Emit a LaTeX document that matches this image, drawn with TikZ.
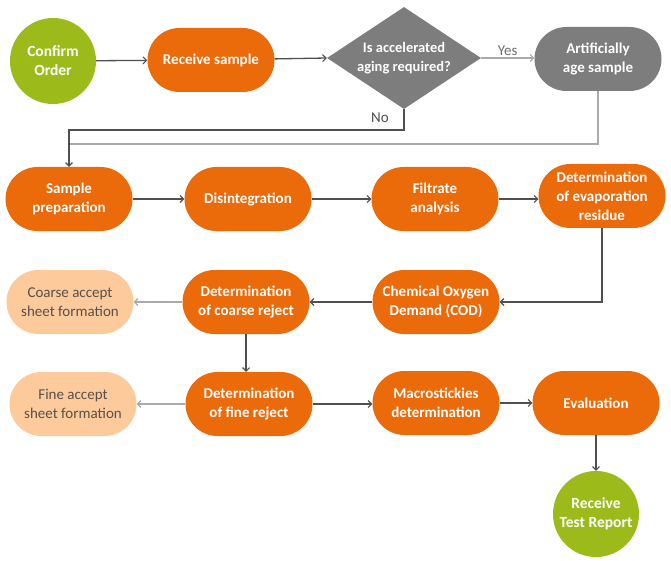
\documentclass[tikz,border=0pt]{standalone}
\usepackage{fontspec}
\setmainfont{Carlito}
\usetikzlibrary{shapes.geometric,arrows.meta}
\definecolor{orng}{RGB}{235,106,10}
\definecolor{grn}{RGB}{156,187,26}
\definecolor{gry}{RGB}{125,125,125}
\definecolor{peach}{RGB}{252,202,155}
\definecolor{peachtext}{RGB}{88,80,74}
\definecolor{darkline}{RGB}{80,80,80}
\definecolor{lightline}{RGB}{170,170,170}
\definecolor{yestext}{RGB}{110,110,110}
\begin{document}
\begin{tikzpicture}[x=1pt,y=-1pt,
  every node/.style={font=\fontsize{15}{19}\selectfont, align=center, inner sep=0pt},
  pill/.style={rectangle, rounded corners=32pt, minimum width=127pt, minimum height=64pt, fill=orng, text=white, font=\fontsize{15}{19}\selectfont\bfseries},
  graypill/.style={pill, fill=gry},
  peachpill/.style={pill, fill=peach, text=peachtext, font=\fontsize{15}{19}\selectfont},
  endcirc/.style={circle, minimum size=86pt, fill=grn, text=white, font=\fontsize{15.5}{19}\selectfont\bfseries},
  decision/.style={diamond, aspect=1.5, minimum width=154pt, minimum height=102pt, fill=gry, text=white, font=\fontsize{14.5}{18.5}\selectfont\bfseries},
  darrow/.style={draw=darkline, line width=1.3pt, -{Straight Barb[length=3.5pt,width=7pt,line width=1.1pt]}},
  larrow/.style={draw=lightline, line width=1.3pt, -{Straight Barb[length=3.5pt,width=7pt,line width=1.1pt]}},
  lline/.style={draw=lightline, line width=1.3pt},
  lbl/.style={font=\fontsize{15}{19}\selectfont}
]
\useasboundingbox (0,0) rectangle (671,561);
\fill[white] (0,0) rectangle (671,561);

\node[endcirc] (CO) at (53,61) {Confirm\\Order};
\node[pill] (RS) at (211,60) {Receive sample};
\node[decision] (DI) at (404,58) {Is accelerated\\aging required?};
\node[graypill] (AA) at (598,59) {Artificially\\age sample};

\node[pill] (SP) at (69,199) {Sample\\preparation};
\node[pill] (DS) at (248,199) {Disintegration};
\node[pill] (FA) at (435,199) {Filtrate\\analysis};
\node[pill] (ER) at (602,196) {Determination\\of evaporation\\residue};

\node[peachpill] (CA) at (70,302) {Coarse accept\\sheet formation};
\node[pill] (CR) at (246,302) {Determination\\of coarse reject};
\node[pill] (COD) at (436,302) {Chemical Oxygen\\Demand (COD)};

\node[peachpill] (FN) at (73,404) {Fine accept\\sheet formation};
\node[pill] (FR) at (249,404) {Determination\\of fine reject};
\node[pill] (MD) at (436,403) {Macrostickies\\determination};
\node[pill] (EV) at (596,403) {Evaluation};
\node[endcirc] (TR) at (596,514) {Receive\\Test Report};

\coordinate (nj) at (SP.north |- 0,130);
\coordinate (yj) at (SP.north |- 0,144);

\draw[darrow] (CO) -- (RS);
\draw[darrow] (RS) -- (DI.west);
\draw[larrow] (DI.east) -- (AA.west |- DI.east) node[midway, above=2pt, lbl, text=yestext] {Yes};
\draw[lline] (AA.south) |- (yj);
\draw[darrow] (DI.south) |- (nj) -- (SP.north);
\node[lbl, text=darkline] (nolbl) at (380,118) {No};

\draw[darrow] (SP) -- (DS);
\draw[darrow] (DS) -- (FA);
\draw[darrow] (FA.east) -- (ER.west |- FA.east);
\draw[darrow] (ER.south) |- (COD.east);
\draw[darrow] (COD) -- (CR);
\draw[larrow] (CR) -- (CA);
\draw[darrow] (CR.south) -- (CR.south |- FR.north);
\draw[larrow] (FR) -- (FN);
\draw[darrow] (FR.east) -- (MD.west |- FR.east);
\draw[darrow] (MD) -- (EV);
\draw[darrow] (EV) -- (TR);
\end{tikzpicture}
\end{document}
